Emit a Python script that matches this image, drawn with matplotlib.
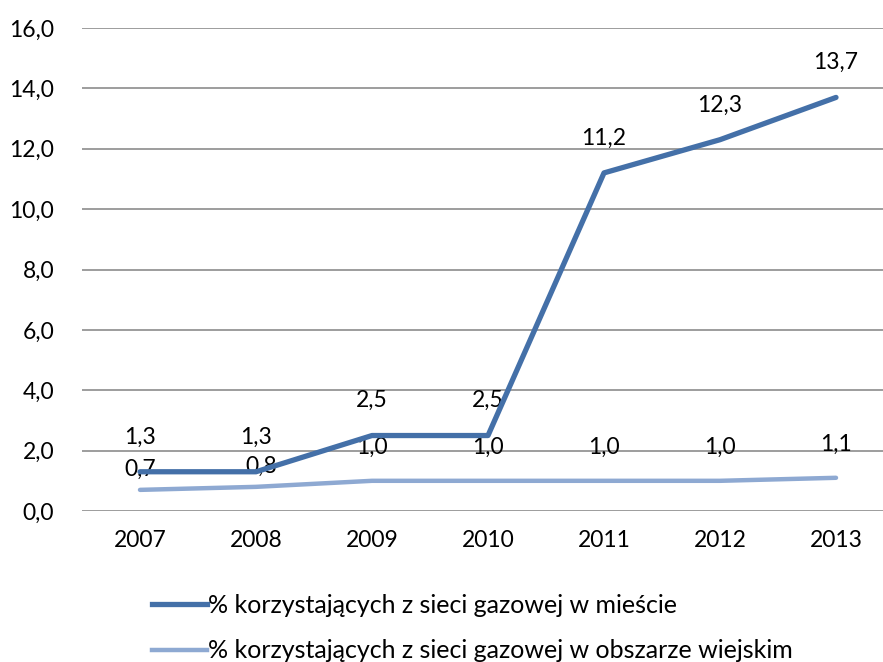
import matplotlib.pyplot as plt
from matplotlib.lines import Line2D

years = ["2007", "2008", "2009", "2010", "2011", "2012", "2013"]
city = [1.3, 1.3, 2.5, 2.5, 11.2, 12.3, 13.7]
rural = [0.7, 0.8, 1.0, 1.0, 1.0, 1.0, 1.1]
names = [
    "% korzystających z sieci gazowej w mieście",
    "% korzystających z sieci gazowej w obszarze wiejskim",
]
yticks = [0, 2, 4, 6, 8, 10, 12, 14, 16]

DARK = "#4470A8"
LIGHT = "#8EA9D2"
FONT = "Lato"
FS = 16.5


def fmt(v):
    return f"{v:.1f}".replace(".", ",")


plt.rcParams["font.family"] = [FONT, "DejaVu Sans"]
fig = plt.figure(figsize=(8.83, 6.62), dpi=100)
ax = fig.add_axes([82 / 883, 1 - 511 / 662, 812 / 883, 483 / 662])

x = list(range(len(years)))
ax.plot(x, rural, color=LIGHT, lw=3.2, solid_capstyle="round", zorder=3)
ax.plot(x, city, color=DARK, lw=3.8, solid_capstyle="round", zorder=4)

for i, v in enumerate(city):
    ax.annotate(fmt(v), (i, v), xytext=(0, 25), textcoords="offset points",
                ha="center", va="center", fontsize=FS, color="black")
rural_off = [15, 15, 24, 24, 24, 24, 24]
for i, v in enumerate(rural):
    ax.annotate(fmt(v), (i, v), xytext=(4 if i == 1 else 0, rural_off[i]),
                textcoords="offset points", ha="center", va="center",
                fontsize=FS, color="black")

ax.set_xlim(-0.5, len(years) - 0.5)
ax.set_ylim(0, 16)
ax.set_yticks(yticks)
ax.set_yticklabels([fmt(t) for t in yticks])
ax.set_xticks(x)
ax.set_xticklabels(years)
ax.tick_params(axis="both", length=0, labelsize=FS)
ax.tick_params(axis="y", pad=20)
ax.tick_params(axis="x", pad=14)
ax.grid(axis="y", color="#8C8C8C", lw=1.2)
ax.set_axisbelow(True)
for s in ax.spines.values():
    s.set_visible(False)

handles = [Line2D([], [], color=DARK, lw=3.8), Line2D([], [], color=LIGHT, lw=3.2)]
fig.legend(handles, names, loc="upper left", bbox_to_anchor=(142 / 883, 1 - 584 / 662),
           frameon=False, fontsize=18, handlelength=2.2, handletextpad=0.05,
           labelspacing=0.9, borderaxespad=0)

fig.savefig("out.png", dpi=100)
